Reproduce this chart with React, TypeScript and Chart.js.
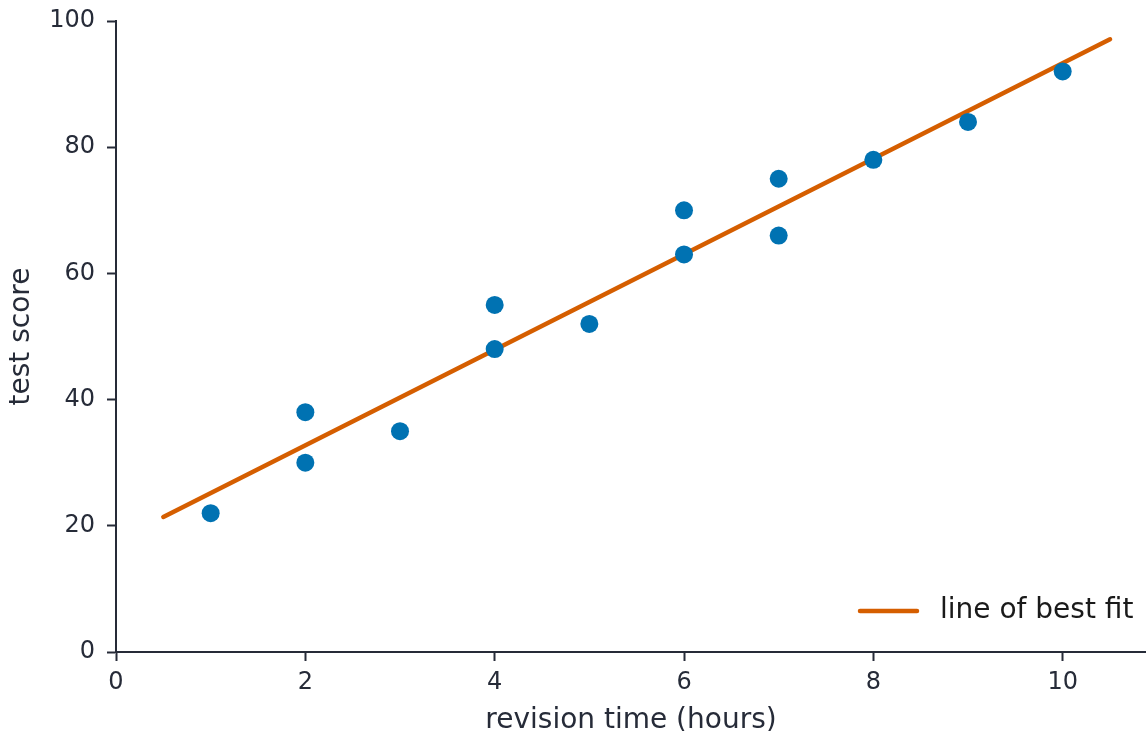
import React, { useEffect, useRef } from "react";
import { Chart, registerables } from "chart.js";

Chart.register(...registerables);

const revisionHours = [1, 2, 2, 3, 4, 4, 5, 6, 6, 7, 7, 8, 9, 10];
const testScores = [22, 30, 38, 35, 48, 55, 52, 63, 70, 66, 75, 78, 84, 92];
const fitHours = [0.5, 10.5];
const fitScores = [21.4, 97.1];
const legendLabel = "line of best fit";
const xTitle = "revision time (hours)";
const yTitle = "test score";

const FONT = "'DejaVu Sans', sans-serif";
const AXIS = "#262b38";
const BLUE = "#0072b2";
const ORANGE = "#d55e00";

const legendPlugin = {
  id: "customLegend",
  afterDraw(chart: any) {
    const { ctx, chartArea } = chart;
    const y = chartArea.bottom - 41;
    ctx.save();
    ctx.strokeStyle = ORANGE;
    ctx.lineWidth = 4.5;
    ctx.lineCap = "round";
    ctx.beginPath();
    ctx.moveTo(chartArea.right - 286, y);
    ctx.lineTo(chartArea.right - 229, y);
    ctx.stroke();
    ctx.fillStyle = "#1a1a1a";
    ctx.font = `28px ${FONT}`;
    ctx.textBaseline = "middle";
    ctx.textAlign = "left";
    ctx.fillText(legendLabel, chartArea.right - 206, y);
    ctx.restore();
  },
};

export default function App() {
  const ref = useRef<HTMLCanvasElement>(null);
  useEffect(() => {
    if (!ref.current) return;
    const chart = new Chart(ref.current, {
      type: "scatter",
      data: {
        datasets: [
          {
            type: "scatter",
            label: "data",
            data: revisionHours.map((x, i) => ({ x, y: testScores[i] })),
            backgroundColor: BLUE,
            borderColor: BLUE,
            pointRadius: 9,
            pointHoverRadius: 9,
            borderWidth: 0,
            order: 0,
          },
          {
            type: "line",
            label: legendLabel,
            data: fitHours.map((x, i) => ({ x, y: fitScores[i] })),
            borderColor: ORANGE,
            backgroundColor: ORANGE,
            borderWidth: 4.5,
            borderCapStyle: "round",
            pointRadius: 0,
            fill: false,
            order: 1,
          } as any,
        ],
      },
      options: {
        responsive: false,
        animation: false,
        layout: { autoPadding: false, padding: { top: 21, right: 0, left: 0, bottom: 0 } },
        plugins: { legend: { display: false }, tooltip: { enabled: false } },
        scales: {
          x: {
            type: "linear",
            min: 0,
            max: 10.88,
            afterFit: (s: any) => {
              s.height = 79;
              s.paddingLeft = 0;
              s.paddingRight = 0;
            },
            ticks: {
              stepSize: 2,
              includeBounds: false,
              color: AXIS,
              font: { family: FONT, size: 24 },
              padding: 7,
              maxRotation: 0,
            },
            grid: {
              display: true,
              drawOnChartArea: false,
              drawTicks: true,
              tickLength: 9,
              tickWidth: 2,
              tickColor: AXIS,
            },
            border: { display: true, color: AXIS, width: 2 },
            title: {
              display: true,
              text: xTitle,
              color: AXIS,
              font: { family: FONT, size: 28, lineHeight: 1 },
              padding: { top: 0, bottom: -4 },
            },
          },
          y: {
            type: "linear",
            min: 0,
            max: 100,
            afterFit: (s: any) => {
              s.width = 116;
              s.paddingTop = 0;
              s.paddingBottom = 0;
            },
            ticks: {
              stepSize: 20,
              color: AXIS,
              font: { family: FONT, size: 24 },
              padding: 12,
            },
            grid: {
              display: true,
              drawOnChartArea: false,
              drawTicks: true,
              tickLength: 9,
              tickWidth: 2,
              tickColor: AXIS,
            },
            border: { display: true, color: AXIS, width: 2 },
            title: {
              display: true,
              text: yTitle,
              color: AXIS,
              font: { family: FONT, size: 28, lineHeight: 1 },
              padding: { top: 8, bottom: 0 },
            },
          },
        },
      },
      plugins: [legendPlugin],
    });
    return () => chart.destroy();
  }, []);
  return (
    <canvas
      ref={ref}
      width={1146}
      height={731}
      style={{ position: "fixed", left: 0, top: 0, width: 1146, height: 731 }}
    />
  );
}
